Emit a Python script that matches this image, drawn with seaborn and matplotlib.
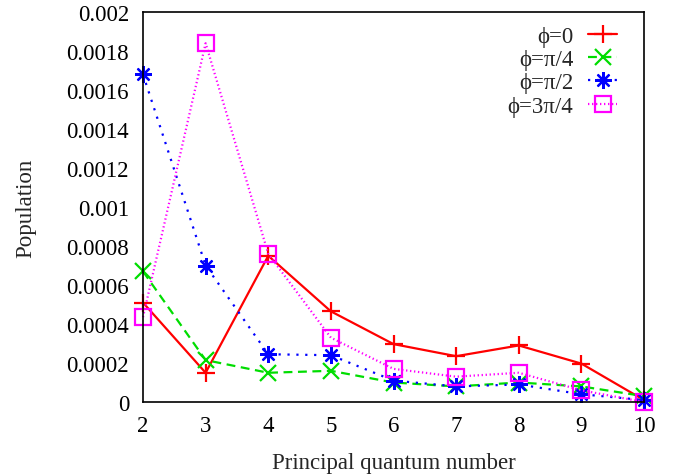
import matplotlib
matplotlib.use("Agg")
import matplotlib.pyplot as plt
import seaborn as sns
import pandas as pd

n = [2, 3, 4, 5, 6, 7, 8, 9, 10]
phi_0 = [0.00051, 0.00015, 0.00075, 0.000465, 0.000297, 0.000235, 0.00029, 0.000197, 0.00001]
phi_pi4 = [0.00067, 0.000215, 0.00015, 0.00016, 0.0001, 0.00008, 0.0001, 0.00008, 0.00003]
phi_pi2 = [0.00168, 0.0007, 0.000245, 0.00024, 0.00011, 0.00008, 0.00009, 0.00004, 0.00001]
phi_3pi4 = [0.000435, 0.00184, 0.00076, 0.00033, 0.00017, 0.00013, 0.00015, 0.00006, 0.0]
labels = ["ϕ=0", "ϕ=π/4", "ϕ=π/2", "ϕ=3π/4"]
yticks = [0, 0.0002, 0.0004, 0.0006, 0.0008, 0.001, 0.0012, 0.0014, 0.0016, 0.0018, 0.002]
ytick_labels = ["0", "0.0002", "0.0004", "0.0006", "0.0008", "0.001", "0.0012", "0.0014", "0.0016", "0.0018", "0.002"]

sns.set_style("white")
plt.rcParams["font.family"] = ["Liberation Serif", "DejaVu Serif"]

fig = plt.figure(figsize=(6.79, 4.77), dpi=100)
ax = fig.add_axes([0.2106, 0.1551, 0.7379, 0.8176])

series = [phi_0, phi_pi4, phi_pi2, phi_3pi4]
colors = ["#ff0000", "#00dd00", "#0000ff", "#ff00ff"]
markers = ["+", "x", (8, 2, 0), "s"]
dashes = [(None, None), (4, 2.5), (1, 3), (0.6, 1.2)]
msizes = [13, 11, 12, 11]

for vals, lab, c, m, d, ms in zip(series, labels, colors, markers, dashes, msizes):
    df = pd.DataFrame({"n": n, "pop": vals})
    kw = dict(linestyle="-") if d[0] is None else dict(dashes=d)
    sns.lineplot(data=df, x="n", y="pop", ax=ax, color=c, marker=m, markersize=ms,
                 markeredgewidth=1.6, markeredgecolor=c,
                 markerfacecolor="none" if m == "s" else c,
                 linewidth=1.6, label=lab, clip_on=False, **kw)

fs = 16.5
ax.set_xlim(2, 10)
ax.set_ylim(0, 0.002)
ax.set_xticks(n)
ax.set_xticklabels([str(v) for v in n])
ax.set_yticks(yticks)
ax.set_yticklabels(ytick_labels)
ax.tick_params(axis="both", direction="in", length=6, width=1, labelsize=fs, colors="black")
ax.tick_params(axis="y", pad=10)
ax.tick_params(axis="x", pad=9)
for s in ax.spines.values():
    s.set_color("black")
    s.set_linewidth(1.2)
ax.set_xlabel("Principal quantum number", fontsize=fs, labelpad=12)
ax.set_ylabel("Population", fontsize=fs, labelpad=22)

leg = ax.legend(loc="upper right", bbox_to_anchor=(0.974, 1.0), frameon=False, markerfirst=False,
                fontsize=fs, handlelength=1.27, labelspacing=0.1, borderaxespad=0.2,
                handletextpad=0.65)

fig.savefig("out.png", dpi=100)
